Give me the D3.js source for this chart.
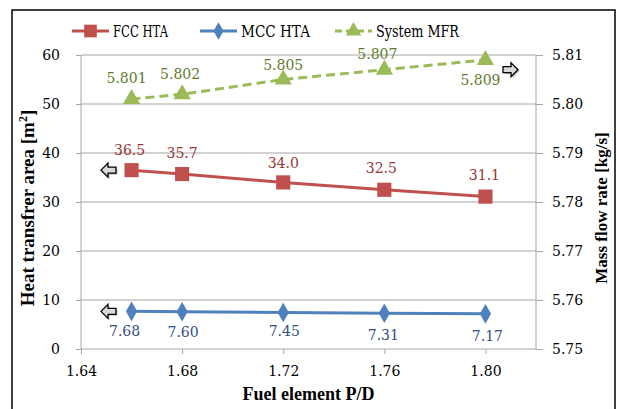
<!DOCTYPE html>
<html lang="en">
<head>
<meta charset="utf-8">
<title>P/D chart</title>
<script src="https://cdn.jsdelivr.net/npm/d3@7"></script>
<style>
  body { margin: 0; background: #fff; }
</style>
</head>
<body>
<script>
// data
var pd = [1.66, 1.68, 1.72, 1.76, 1.80];
var fccHta = [36.5, 35.7, 34.0, 32.5, 31.1];
var mccHta = [7.68, 7.60, 7.45, 7.31, 7.17];
var sysMfr = [5.801, 5.802, 5.805, 5.807, 5.809];
var xTicks = [1.64, 1.68, 1.72, 1.76, 1.80];
var leftTicks = [0, 10, 20, 30, 40, 50, 60];
var rightTicks = [5.75, 5.76, 5.77, 5.78, 5.79, 5.80, 5.81];

var w = 617, h = 409;
var pL = 81, pR = 536, pT = 55, pB = 349; // plot area edges
var serif = "'DejaVu Serif', serif";          // regular serif that is really installed
var serifBold = "'Liberation Serif', serif";  // bold titles

var svg = d3.select("body").append("svg")
    .attr("width", w).attr("height", h)
    .style("font-family", serif);

// outer frame
svg.append("rect")
    .attr("x", 12).attr("y", 10)
    .attr("width", 603).attr("height", 420)
    .attr("fill", "none").attr("stroke", "#000").attr("stroke-width", 1.5);

var xScale = d3.scaleLinear().domain([1.64, 1.82]).range([pL, pR]);
var yL = d3.scaleLinear().domain([0, 60]).range([pB, pT]);
var yR = d3.scaleLinear().domain([5.75, 5.81]).range([pB, pT]);

// gridlines
svg.append("g").selectAll("line")
    .data(leftTicks.slice(1))
    .enter().append("line")
    .attr("x1", pL).attr("x2", pR)
    .attr("y1", function(d){ return yL(d); })
    .attr("y2", function(d){ return yL(d); })
    .attr("stroke", "#a6a6a6").attr("stroke-width", 1);

// axes
var xAxis = d3.axisBottom(xScale).tickValues(xTicks)
    .tickFormat(d3.format(".2f")).tickSize(5).tickPadding(12);
var lAxis = d3.axisLeft(yL).tickValues(leftTicks).tickSize(5).tickPadding(16);
var rAxis = d3.axisRight(yR).tickValues(rightTicks)
    .tickFormat(d3.format(".2f")).tickSize(7).tickPadding(9);

function styleAxis(g) {
    g.attr("font-family", null);
    g.select(".domain").attr("stroke", "#a6a6a6");
    g.selectAll(".tick line").attr("stroke", "#a6a6a6");
    g.selectAll("text").style("font-size", "14px").attr("fill", "#000")
        .style("font-family", serif);
}

svg.append("g").attr("transform", "translate(0," + pB + ")")
    .call(xAxis).call(styleAxis)
    .call(function(g){ g.select(".domain").attr("d", "M" + pL + ",0H" + pR); });
svg.append("g").attr("transform", "translate(" + pL + ",0)")
    .call(lAxis).call(styleAxis)
    .call(function(g){ g.select(".domain").attr("d", "M0," + pT + "V" + pB); });
svg.append("g").attr("transform", "translate(" + pR + ",0)")
    .call(rAxis).call(styleAxis)
    .call(function(g){ g.select(".domain").attr("d", "M0," + pT + "V" + pB); });

// axis titles
svg.append("text")
    .attr("transform", "translate(34,208) rotate(-90)")
    .attr("text-anchor", "middle").style("font-size", "19px").attr("font-weight", "bold")
    .style("font-family", serifBold)
    .html("Heat transfrer area [m<tspan dy='-7' font-size='12px'>2</tspan><tspan dy='7'>]</tspan>");
svg.append("text")
    .attr("transform", "translate(607,208) rotate(-90)")
    .attr("text-anchor", "middle").style("font-size", "17px").attr("font-weight", "bold")
    .style("font-family", serifBold)
    .text("Mass flow rate [kg/s]");
svg.append("text")
    .attr("x", (pL + pR) / 2).attr("y", 400)
    .attr("text-anchor", "middle").style("font-size", "18px").attr("font-weight", "bold")
    .style("font-family", serifBold)
    .text("Fuel element P/D");

var series = [
    { name: "FCC HTA", vals: fccHta, y: yL, color: "#c0504d", label: "#953735",
      sym: d3.symbolSquare, size: 200, dash: null, fmt: d3.format(".1f") },
    { name: "MCC HTA", vals: mccHta, y: yL, color: "#4f81bd", label: "#2f4f7f",
      sym: d3.symbolDiamond, size: 110, dash: null, fmt: d3.format(".2f") },
    { name: "System MFR", vals: sysMfr, y: yR, color: "#9bbb59", label: "#5f7a2a",
      sym: d3.symbolTriangle, size: 130, dash: "9,5", fmt: d3.format(".3f") }
];

series.forEach(function(s) {
    var pts = pd.map(function(x, i){ return [x, s.vals[i]]; });
    var line = d3.line()
        .x(function(d){ return xScale(d[0]); })
        .y(function(d){ return s.y(d[1]); });
    svg.append("path").datum(pts)
        .attr("d", line).attr("fill", "none")
        .attr("stroke", s.color).attr("stroke-width", 3)
        .attr("stroke-dasharray", s.dash);
    svg.append("g").selectAll("path")
        .data(pts).enter().append("path")
        .attr("d", d3.symbol().type(s.sym).size(s.size))
        .attr("transform", function(d){ return "translate(" + xScale(d[0]) + "," + s.y(d[1]) + ")"; })
        .attr("fill", s.color);
});

// data labels, nudged like the hand-placed ones in the original
function addLabels(s, dx, dy) {
    svg.append("g").selectAll("text")
        .data(pd.map(function(x, i){ return [x, s.vals[i], i]; }))
        .enter().append("text")
        .attr("x", function(d){ return xScale(d[0]) + dx[d[2]]; })
        .attr("y", function(d){ return s.y(d[1]) + dy[d[2]]; })
        .attr("text-anchor", "middle").style("font-size", "14px")
        .attr("fill", s.label)
        .text(function(d){ return s.fmt(d[1]); });
}
addLabels(series[0], [-2, 0, 0, -3, -1], [-15, -16, -14, -17, -17]);
addLabels(series[1], [-7, 1, 1, -1, 2], [25, 25, 24, 27, 27]);
addLabels(series[2], [-5, -2, 0, -7, -5], [-16, -15, -10, -11, 25]);

// block arrows pointing at the axis each series belongs to
function arrow(x, y, dir) {
    var p = [[-8, 0], [-1, -7], [-1, -3], [7, -3], [7, 3], [-1, 3], [-1, 7]];
    var pts = p.map(function(q){ return [q[0] * dir + x, q[1] + y]; });
    svg.append("polygon")
        .attr("points", pts.map(function(q){ return (q[0] + 1.5) + "," + (q[1] + 1.5); }).join(" "))
        .attr("fill", "#888").attr("opacity", 0.5);
    svg.append("polygon")
        .attr("points", pts.map(function(q){ return q.join(","); }).join(" "))
        .attr("fill", "#d9d9d9").attr("stroke", "#000").attr("stroke-width", 1.3);
}
arrow(109, yL(fccHta[0]), 1);
arrow(109, yL(mccHta[0]), 1);
arrow(510, yR(sysMfr[3]), -1);

// legend
var legendX = [72, 200, 335];
var legendW = [55, 69, 83];
series.forEach(function(s, i) {
    var g = svg.append("g").attr("transform", "translate(" + legendX[i] + ",31)");
    g.append("line").attr("x1", 0).attr("x2", 37)
        .attr("stroke", s.color).attr("stroke-width", 3)
        .attr("stroke-dasharray", s.dash ? "7,4" : null);
    g.append("path").attr("d", d3.symbol().type(s.sym).size(s.size * 0.8))
        .attr("transform", "translate(18.5,0)").attr("fill", s.color);
    g.append("text").attr("x", 41).attr("y", 6)
        .style("font-size", "17px").attr("fill", "#000")
        .attr("textLength", legendW[i]).attr("lengthAdjust", "spacingAndGlyphs")
        .text(s.name);
});
</script>
</body>
</html>
